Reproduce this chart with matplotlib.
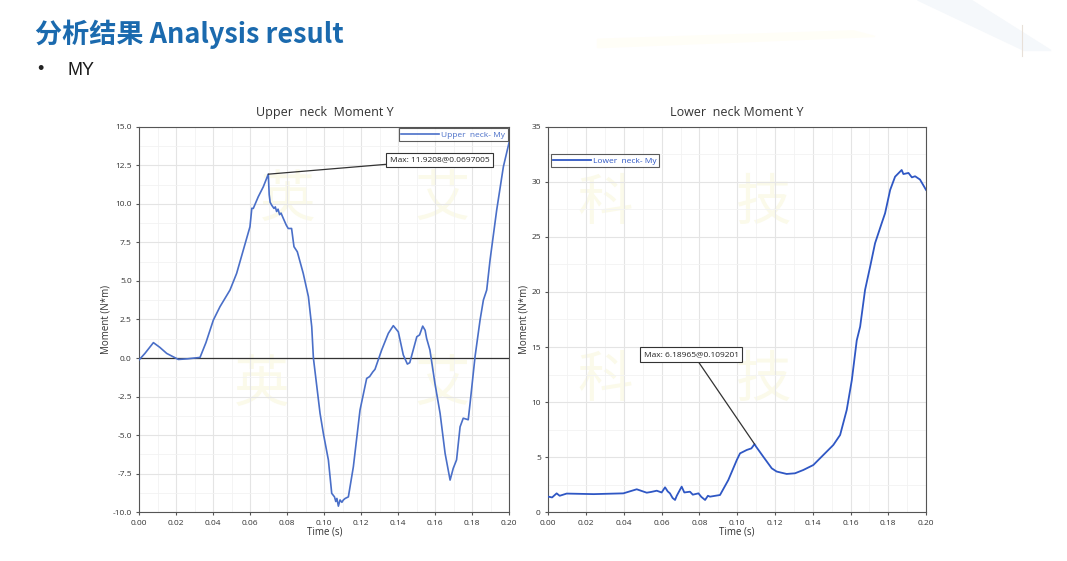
import numpy as np
import matplotlib
matplotlib.use("Agg")
from matplotlib import pyplot as plt
from matplotlib.ticker import MultipleLocator

# upper neck My (s, N*m)
upper_t = [0.000, 0.003, 0.0076, 0.011, 0.0148, 0.018, 0.0211, 0.026, 0.0328, 0.036,
           0.040, 0.0436, 0.049, 0.0526, 0.0562, 0.0598, 0.0608, 0.0616, 0.0643, 0.067,
           0.0697, 0.0702, 0.0707, 0.0716, 0.0728, 0.0735, 0.0742, 0.0750, 0.0758, 0.0766,
           0.0778, 0.0795, 0.0805, 0.0823, 0.0836, 0.0854, 0.0886, 0.0914, 0.0932, 0.0941,
           0.0977, 0.0995, 0.1022, 0.104, 0.1055, 0.1062, 0.1068, 0.1076, 0.1085, 0.1095,
           0.1103, 0.1113, 0.113, 0.1157, 0.1193, 0.1229, 0.1245, 0.1262, 0.1274, 0.131,
           0.1346, 0.1373, 0.14, 0.1427, 0.1449, 0.1462, 0.15, 0.1515, 0.1532, 0.1545,
           0.1553, 0.1571, 0.1598, 0.1626, 0.1653, 0.168, 0.1697, 0.1715, 0.1734, 0.1751,
           0.1765, 0.1778, 0.1788, 0.1815, 0.1842, 0.186, 0.1878, 0.1896, 0.1932, 0.1968,
           0.200]
upper_my = [-0.1, 0.3, 1.0, 0.7, 0.3, 0.1, -0.09, -0.05, 0.04, 1.0,
            2.46, 3.33, 4.41, 5.49, 7.0, 8.51, 9.71, 9.7, 10.46, 11.1,
            11.92, 10.6, 10.1, 9.9, 9.7, 9.8, 9.5, 9.65, 9.3, 9.4,
            9.06, 8.6, 8.4, 8.4, 7.22, 6.89, 5.49, 3.98, 2.03, 0.0,
            -3.59, -4.9, -6.61, -8.77, -9.0, -9.3, -9.1, -9.6, -9.2, -9.35,
            -9.2, -9.1, -9.0, -7.05, -3.37, -1.32, -1.2, -0.9, -0.73, 0.52,
            1.6, 2.1, 1.7, 0.2, -0.39, -0.3, 1.38, 1.5, 2.07, 1.8,
            1.28, 0.52, -1.64, -3.59, -6.18, -7.91, -7.15, -6.6, -4.46, -3.9,
            -3.95, -4.0, -2.94, 0.1, 2.46, 3.76, 4.41, 6.35, 9.6, 12.4,
            14.03]

# lower neck My (s, N*m)
lower_t = [0.000, 0.002, 0.0044, 0.006, 0.0097, 0.024, 0.0397, 0.0468, 0.0521, 0.0545,
           0.0574, 0.060, 0.0618, 0.0632, 0.0644, 0.0658, 0.0671, 0.068, 0.0706, 0.072,
           0.075, 0.0765, 0.0795, 0.081, 0.083, 0.0845, 0.0856, 0.0909, 0.0953, 0.0998,
           0.1015, 0.1051, 0.1075, 0.1092, 0.11, 0.1138, 0.1183, 0.1209, 0.1262, 0.1306,
           0.135, 0.1403, 0.1456, 0.1509, 0.1545, 0.158, 0.1607, 0.1633, 0.1651, 0.1677,
           0.1704, 0.173, 0.1765, 0.1783, 0.181, 0.1836, 0.1871, 0.188, 0.1907, 0.1925,
           0.1942, 0.1968, 0.200]
lower_my = [1.42, 1.35, 1.72, 1.5, 1.7, 1.65, 1.72, 2.09, 1.78, 1.85,
            1.96, 1.8, 2.27, 1.9, 1.72, 1.3, 1.12, 1.5, 2.33, 1.8,
            1.87, 1.6, 1.72, 1.4, 1.12, 1.5, 1.42, 1.57, 2.93, 4.75,
            5.35, 5.66, 5.8, 6.19, 5.96, 5.05, 3.99, 3.7, 3.48, 3.54,
            3.84, 4.29, 5.2, 6.11, 7.02, 9.29, 12.0, 15.6, 16.85, 20.18,
            22.3, 24.42, 26.23, 27.14, 29.26, 30.46, 31.07, 30.7, 30.8, 30.4,
            30.5, 30.2, 29.26]

upper_max = (0.0697005, 11.9208)
lower_max = (0.109201, 6.18965)

x_ticks = np.arange(0, 0.2001, 0.02)

plt.rcParams['font.family'] = ['Open Sans', 'DejaVu Sans']

fig = plt.figure(figsize=(10.67, 5.61), dpi=100)

# faint decoration behind the header
fig.patches.append(plt.Polygon([[0.86, 1.0], [0.91, 1.0], [0.985, 0.91], [0.96, 0.91]],
                               closed=True, transform=fig.transFigure,
                               color='#F5F8FB', zorder=0))
fig.patches.append(plt.Polygon([[0.56, 0.93], [0.80, 0.945], [0.82, 0.935], [0.56, 0.915]],
                               closed=True, transform=fig.transFigure,
                               color='#FFFEF7', zorder=0))
fig.add_artist(plt.Line2D([0.958, 0.958], [0.90, 0.955], transform=fig.transFigure,
                          color='#E8E0D8', linewidth=0.8))

# page header
fig.text(0.033, 0.938, "分析结果 Analysis result", fontsize=19.5, fontweight='bold',
         color='#1B6AAE', family=['Noto Sans CJK SC', 'DejaVu Sans'], va='center')
fig.text(0.035, 0.876, "•", fontsize=13, color='#222222', va='center',
         family=['Liberation Sans', 'DejaVu Sans'])
fig.text(0.063, 0.875, "MY", fontsize=13, color='#1A1A1A', va='center',
         family=['Liberation Sans', 'DejaVu Sans'])


def style_axes(ax, title, ymin, ymax, ymajor, yminor, yfmt):
    ax.set_xlim(0, 0.2)
    ax.set_ylim(ymin, ymax)
    ax.set_xticks(x_ticks)
    ax.set_xticklabels(["%.2f" % v for v in x_ticks])
    ax.xaxis.set_minor_locator(MultipleLocator(0.01))
    ax.yaxis.set_major_locator(MultipleLocator(ymajor))
    ax.yaxis.set_minor_locator(MultipleLocator(yminor))
    ax.yaxis.set_major_formatter(plt.FormatStrFormatter(yfmt))
    ax.grid(which='major', color='#E4E4E4', linewidth=0.8)
    ax.grid(which='minor', color='#F2F2F2', linewidth=0.6)
    ax.tick_params(which='both', labelsize=6, length=2, colors='#555555', labelcolor='#333333')
    ax.tick_params(which='minor', length=0)
    for s in ax.spines.values():
        s.set_color('#555555')
        s.set_linewidth(0.8)
    ax.set_title(title, fontsize=9, color='#333333', pad=8)
    ax.set_xlabel("Time (s)", fontsize=7, color='#333333', labelpad=0)
    ax.set_ylabel("Moment (N*m)", fontsize=7, color='#333333', labelpad=1)


def watermark(ax, chars):
    for (x, y, c) in chars:
        ax.text(x, y, c, transform=ax.transAxes, fontsize=40, color='#FBFAEA',
                ha='center', va='center', zorder=0.5,
                family=['Noto Sans CJK SC', 'DejaVu Sans'])


# left panel
ax1 = fig.add_axes([0.1306, 0.0868, 0.3467, 0.6874])
style_axes(ax1, "Upper  neck  Moment Y", -10, 15, 2.5, 1.25, "%.1f")
watermark(ax1, [(0.40, 0.81, "英"), (0.82, 0.81, "艾"), (0.33, 0.33, "英"), (0.82, 0.33, "艾")])
ax1.axhline(0, color='#333333', linewidth=0.9, zorder=2)
ax1.plot(upper_t, upper_my, color='#4A6FC8', linewidth=1.2, label="Upper  neck- My", zorder=3)
leg1 = ax1.legend(loc='upper right', fontsize=6, frameon=True, fancybox=False,
                  borderpad=0.3, handlelength=4.5, handletextpad=0.3,
                  borderaxespad=0.2, labelcolor='#4A6FC8')
leg1.get_frame().set_edgecolor('#333333')
leg1.get_frame().set_linewidth(0.8)
ax1.annotate("Max: %s@%s" % ("11.9208", "0.0697005"), xy=upper_max,
             xytext=(0.1355, 12.85), fontsize=6, color='#222222',
             va='center', ha='left',
             bbox=dict(boxstyle='square,pad=0.45', fc='white', ec='#333333', lw=0.8),
             arrowprops=dict(arrowstyle='-', color='#333333', lw=0.9,
                             shrinkA=0, shrinkB=0))

# right panel
ax2 = fig.add_axes([0.5139, 0.0868, 0.3540, 0.6874])
style_axes(ax2, "Lower  neck Moment Y", 0, 35, 5, 2.5, "%d")
watermark(ax2, [(0.15, 0.80, "科"), (0.57, 0.80, "技"), (0.15, 0.34, "科"), (0.57, 0.34, "技")])
ax2.plot(lower_t, lower_my, color='#2F57C4', linewidth=1.3, label="Lower  neck- My", zorder=3)
leg2 = ax2.legend(loc='upper left', bbox_to_anchor=(0.0, 0.935), fontsize=6, frameon=True,
                  fancybox=False, borderpad=0.3, handlelength=4.5, handletextpad=0.3,
                  borderaxespad=0.3, labelcolor='#2F57C4')
leg2.get_frame().set_edgecolor('#333333')
leg2.get_frame().set_linewidth(0.8)
ax2.annotate("Max: %s@%s" % ("6.18965", "0.109201"), xy=lower_max,
             xytext=(0.0505, 14.3), fontsize=6, color='#222222',
             va='center', ha='left',
             bbox=dict(boxstyle='square,pad=0.45', fc='white', ec='#333333', lw=0.8),
             arrowprops=dict(arrowstyle='-', color='#333333', lw=0.9,
                             shrinkA=0, shrinkB=0, relpos=(0.55, 0.0)))

fig.savefig("out.png", dpi=100)
